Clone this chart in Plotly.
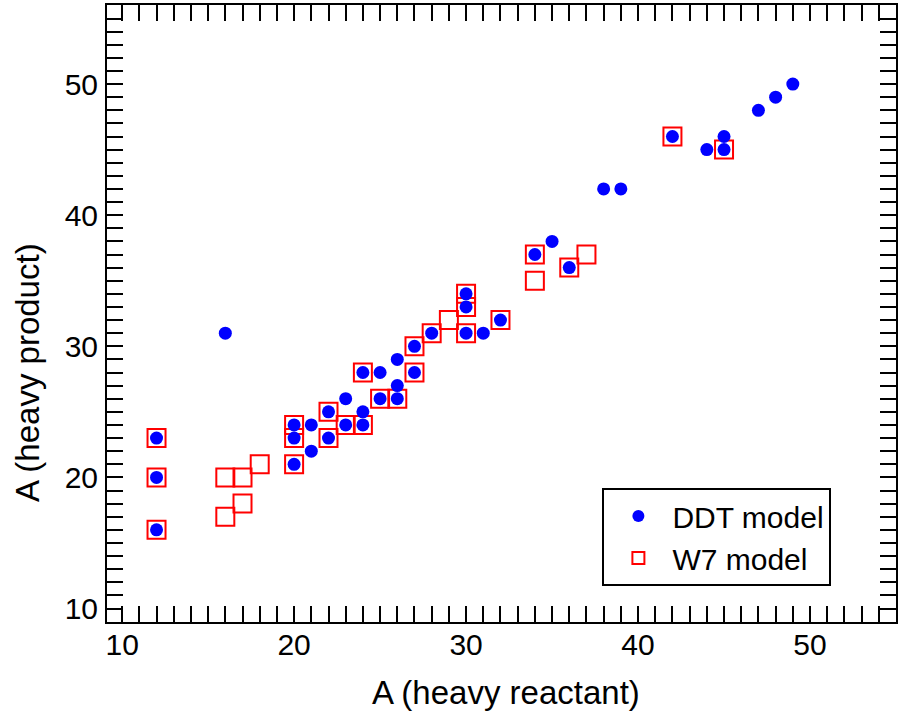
import plotly.graph_objects as go

# DDT model (blue filled circles)
ddt_x = [12, 12, 12, 16, 20, 20, 20, 21, 21, 22, 22, 23, 23, 24, 24, 24, 25, 25,
         26, 26, 26, 27, 27, 28, 30, 30, 30, 31, 32, 34, 35, 36, 38, 39, 42, 44,
         45, 45, 47, 48, 49]
ddt_y = [23, 20, 16, 31, 24, 23, 21, 24, 22, 25, 23, 26, 24, 28, 25, 24, 28, 26,
         29, 27, 26, 30, 28, 31, 34, 33, 31, 31, 32, 37, 38, 36, 42, 42, 46, 45,
         46, 45, 48, 49, 50]

# W7 model (red open squares)
w7_x = [12, 12, 12, 16, 16, 17, 17, 18, 20, 20, 20, 22, 22, 23, 24, 24, 25, 26,
        27, 27, 28, 29, 30, 30, 30, 32, 34, 34, 36, 37, 42, 45]
w7_y = [23, 20, 16, 20, 17, 20, 18, 21, 24, 23, 21, 25, 23, 24, 28, 24, 26, 26,
        30, 28, 31, 32, 34, 33, 31, 32, 37, 35, 36, 37, 46, 45]

x_range = [9.12, 55.0]
y_range = [8.97, 56.03]
mid_ticks = [15, 25, 35, 45, 55]

x_title = "A (heavy reactant)"
y_title = "A (heavy product)"

FONT = "Liberation Sans, Arial, Helvetica, sans-serif"

fig = go.Figure()

fig.add_trace(go.Scatter(
    x=w7_x, y=w7_y, mode="markers", name="W7 model", legendrank=2,
    marker=dict(symbol="square-open", size=18, color="#ff0000",
                line=dict(width=2, color="#ff0000")),
))
fig.add_trace(go.Scatter(
    x=ddt_x, y=ddt_y, mode="markers", name="DDT model", legendrank=1,
    marker=dict(symbol="circle", size=13, color="#0000ff", line=dict(width=0)),
))
# empty helper traces so the overlay axes (medium ticks at 5s) are drawn
fig.add_trace(go.Scatter(x=[], y=[], xaxis="x2", yaxis="y", showlegend=False, hoverinfo="skip"))
fig.add_trace(go.Scatter(x=[], y=[], xaxis="x", yaxis="y2", showlegend=False, hoverinfo="skip"))

axis_common = dict(
    showline=True, linewidth=2, linecolor="black", mirror="allticks",
    ticks="inside", tickwidth=2, tickcolor="black", showgrid=False, zeroline=False,
)

fig.update_layout(
    width=906, height=718,
    margin=dict(l=107, r=10, t=5, b=96, autoexpand=False),
    paper_bgcolor="white", plot_bgcolor="white",
    font=dict(family=FONT, size=30, color="black"),
    xaxis=dict(range=x_range, tick0=0, dtick=10, ticklen=16,
               minor=dict(dtick=1, tick0=0, ticklen=8, tickwidth=2, ticks="inside", tickcolor="black"),
               tickfont=dict(size=30), ticklabelstandoff=-5, **axis_common),
    yaxis=dict(range=y_range, tick0=0, dtick=10, ticklen=16,
               minor=dict(dtick=1, tick0=0, ticklen=8, tickwidth=2, ticks="inside", tickcolor="black"),
               tickfont=dict(size=30), ticklabelstandoff=1, **axis_common),
    xaxis2=dict(overlaying="x", anchor="y", side="bottom", range=x_range,
                tickmode="array", tickvals=mid_ticks, ticklen=12, showticklabels=False,
                **axis_common),
    yaxis2=dict(overlaying="y", anchor="x", side="left", range=y_range,
                tickmode="array", tickvals=mid_ticks, ticklen=12, showticklabels=False,
                **axis_common),
    legend=dict(x=0.773, y=0.1378, xanchor="center", yanchor="middle",
                bgcolor="white", bordercolor="black", borderwidth=2,
                font=dict(family=FONT, size=30), itemwidth=58, itemsizing="constant"),
    annotations=[
        dict(text=x_title, xref="paper", yref="paper", x=0.5063, y=-0.115,
             xanchor="center", yanchor="middle", showarrow=False,
             font=dict(family=FONT, size=33)),
        dict(text=y_title, xref="paper", yref="paper", x=-0.1001, y=0.4036,
             xanchor="center", yanchor="middle", showarrow=False, textangle=-90,
             font=dict(family=FONT, size=33)),
    ],
    showlegend=True,
)

fig.write_html("out.html", config={"displayModeBar": False},
               post_script="document.body.style.margin='0';")
